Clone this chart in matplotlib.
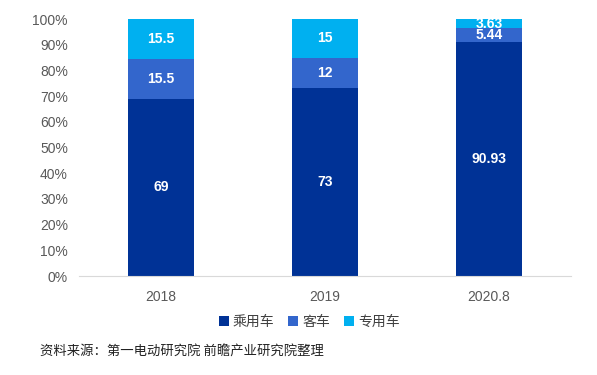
import matplotlib
matplotlib.use("Agg")
import matplotlib.pyplot as plt
from matplotlib.ticker import FuncFormatter

plt.rcParams['font.family'] = ['Noto Sans CJK SC', 'DejaVu Sans']

categories = ["2018", "2019", "2020.8"]
passenger = [69, 73, 90.93]
bus = [15.5, 12, 5.44]
special = [15.5, 15, 3.63]
series_names = ["乘用车", "客车", "专用车"]
colors = ["#003296", "#3366CC", "#00B0F0"]
yticks = [0, 10, 20, 30, 40, 50, 60, 70, 80, 90, 100]

fig = plt.figure(figsize=(5.97, 3.75), dpi=100)
ax = fig.add_axes([0.1323, 0.264, 0.8241, 0.6853])

x = list(range(len(categories)))
bottom = [0] * len(categories)
bars_all = []
for vals, name, c in zip([passenger, bus, special], series_names, colors):
    bars = ax.bar(x, vals, width=0.40, bottom=bottom, color=c, label=name)
    bars_all.append((bars, vals, bottom[:]))
    bottom = [b + v for b, v in zip(bottom, vals)]

for bars, vals, bots in bars_all:
    for rect, v, b in zip(bars, vals, bots):
        label = f"{v:g}"
        ax.text(rect.get_x() + rect.get_width() / 2, b + v / 2, label,
                ha="center", va="center", color="white", fontsize=10,
                fontweight="bold", family=["Liberation Sans", "DejaVu Sans"])

ax.set_xlim(-0.5, len(categories) - 0.5)
ax.set_ylim(0, 100)
ax.set_yticks(yticks)
ax.yaxis.set_major_formatter(FuncFormatter(lambda v, p: f"{int(v)}%"))
ax.set_xticks(x)
ax.set_xticklabels(categories)
for lab in ax.get_xticklabels() + ax.get_yticklabels():
    lab.set_family(["Liberation Sans", "DejaVu Sans"])
ax.tick_params(axis="both", length=0, labelsize=10, colors="#595959")
ax.tick_params(axis="x", pad=10)
ax.tick_params(axis="y", pad=8)
for s in ["top", "right", "left"]:
    ax.spines[s].set_visible(False)
ax.spines["bottom"].set_color("#D9D9D9")

leg = fig.legend(loc="center", bbox_to_anchor=(0.518, 0.142), ncol=3, frameon=False,
                 handlelength=0.7, handleheight=0.7, handletextpad=0.3,
                 columnspacing=1.0, fontsize=10)
for t in leg.get_texts():
    t.set_color("#404040")

fig.text(0.067, 0.062, "资料来源：第一电动研究院 前瞻产业研究院整理", fontsize=9.6,
         color="#222222", va="center", ha="left")

fig.savefig("out.png", dpi=100)
